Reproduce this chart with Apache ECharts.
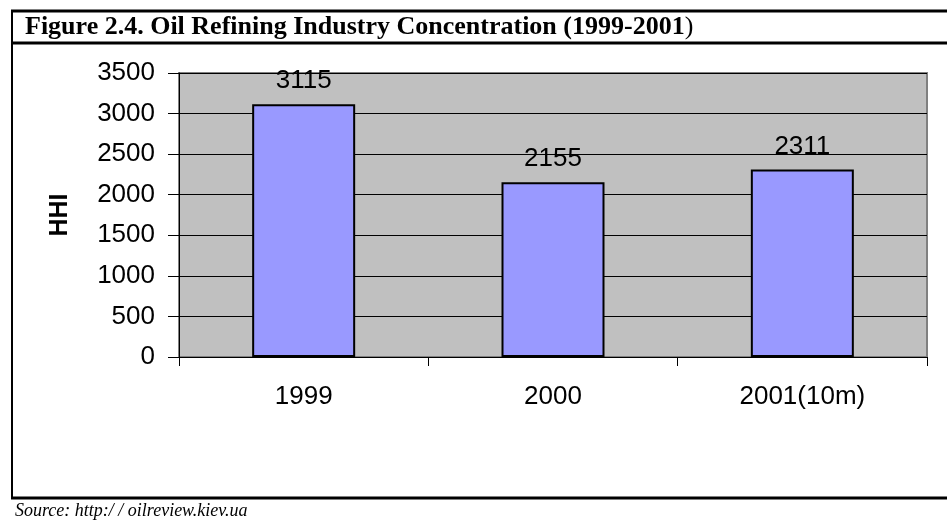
<!DOCTYPE html>
<html>
<head>
    <meta http-equiv="Content-Type" content="text/html; charset=utf-8"/>
    <script src="https://cdn.jsdelivr.net/npm/echarts@6/dist/echarts.min.js"></script>
    <style>
        html, body { margin: 0; padding: 0; background: #fff; }
    </style>
</head>
<body>
<div id="main" style="width:947px;height:522px;"></div>

<script type="text/javascript">
    // data
    var categories = ['1999', '2000', '2001(10m)'];
    var hhiValues = [3115, 2155, 2311];
    var yTicks = {min: 0, max: 3500, step: 500};

    var titleText = 'Figure 2.4. Oil Refining Industry Concentration (1999-2001';
    var sourceText = 'Source: http:/ / oilreview.kiev.ua';

    var sans = '"Liberation Sans", Arial, sans-serif';
    var serif = '"Liberation Serif", "Times New Roman", serif';

    var myChart = echarts.init(document.getElementById('main'));

    var option = {
        backgroundColor: '#fff',
        animation: false,
        grid: {
            left: 179,
            right: 20,
            top: 73,
            bottom: 165,
            show: true,
            backgroundColor: '#c0c0c0',
            borderColor: '#808080',
            borderWidth: 2
        },
        xAxis: {
            type: 'category',
            data: categories,
            boundaryGap: true,
            axisLine: {lineStyle: {color: '#000', width: 1}},
            axisTick: {show: true, length: 9, alignWithLabel: false, lineStyle: {color: '#000'}},
            axisLabel: {color: '#000', fontFamily: sans, fontSize: 26, margin: 27}
        },
        yAxis: {
            type: 'value',
            min: yTicks.min,
            max: yTicks.max,
            interval: yTicks.step,
            name: 'HHI',
            nameLocation: 'middle',
            nameRotate: 90,
            nameGap: 106,
            nameTextStyle: {color: '#000', fontFamily: sans, fontSize: 25, fontWeight: 'bold'},
            axisLine: {show: true, lineStyle: {color: '#000', width: 1}},
            axisTick: {show: true, length: 11, lineStyle: {color: '#000'}},
            axisLabel: {
                color: '#000', fontFamily: sans, fontSize: 26, margin: 24,
                formatter: function (v) { return String(v); }
            },
            splitLine: {show: true, lineStyle: {color: '#000', width: 1}}
        },
        series: [
            {
                name: 'HHI',
                type: 'bar',
                data: hhiValues,
                barWidth: 103,
                itemStyle: {color: '#9999ff', borderColor: '#000', borderWidth: 2},
                label: {
                    show: true,
                    position: 'top',
                    distance: 10,
                    color: '#000',
                    fontFamily: sans,
                    fontSize: 26
                }
            }
        ],
        graphic: [
            // frame of the figure box
            {type: 'line', shape: {x1: 11, y1: 11, x2: 947, y2: 11}, style: {stroke: '#000', lineWidth: 3}},
            {type: 'line', shape: {x1: 11, y1: 43, x2: 947, y2: 43}, style: {stroke: '#000', lineWidth: 3}},
            {type: 'line', shape: {x1: 11, y1: 498, x2: 947, y2: 498}, style: {stroke: '#000', lineWidth: 3}},
            {type: 'line', shape: {x1: 12, y1: 10, x2: 12, y2: 499}, style: {stroke: '#000', lineWidth: 2}},
            {
                type: 'text', left: 25, top: 14,
                style: {
                    text: '{b|' + titleText + '}{n|)}',
                    rich: {
                        b: {fontFamily: serif, fontSize: 26, fontWeight: 'bold', fill: '#000'},
                        n: {fontFamily: serif, fontSize: 26, fill: '#000'}
                    }
                }
            },
            {
                type: 'text', left: 15, top: 502,
                style: {text: sourceText, font: 'italic 18px ' + serif, fill: '#000'}
            }
        ]
    };
    myChart.setOption(option);
</script>
</body>
</html>
